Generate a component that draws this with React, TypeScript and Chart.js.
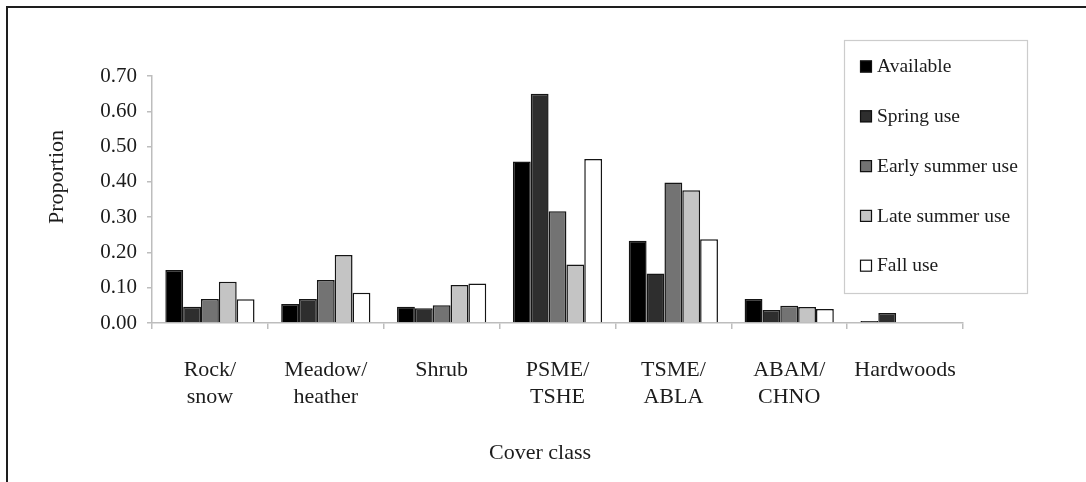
import React, { useEffect, useRef } from "react";
import { Chart, registerables } from "chart.js";

Chart.register(...registerables);

const categories: string[][] = [
  ["Rock/", "snow"],
  ["Meadow/", "heather"],
  ["Shrub"],
  ["PSME/", "TSHE"],
  ["TSME/", "ABLA"],
  ["ABAM/", "CHNO"],
  ["Hardwoods"],
];
const seriesNames = ["Available", "Spring use", "Early summer use", "Late summer use", "Fall use"];
const available = [0.15, 0.054, 0.046, 0.458, 0.233, 0.068, 0.006];
const springUse = [0.046, 0.068, 0.042, 0.65, 0.14, 0.037, 0.028];
const earlySummerUse = [0.068, 0.122, 0.05, 0.317, 0.398, 0.049, null];
const lateSummerUse = [0.117, 0.193, 0.108, 0.166, 0.376, 0.045, null];
const fallUse = [0.067, 0.086, 0.112, 0.465, 0.237, 0.04, null];
const seriesColors = ["#000000", "#2e2e2e", "#737373", "#c4c4c4", "#ffffff"];
const yMin = 0;
const yMax = 0.7;
const yStep = 0.1;
const xTitle = "Cover class";
const yTitle = "Proportion";

const SERIF = '"Liberation Serif", "Times New Roman", serif';
const TEXT = "#1c1c1c";
const AXIS = "#bdbdbd";

const boxLegend = {
  id: "boxLegend",
  afterDraw(chart: any) {
    const ctx = chart.ctx as CanvasRenderingContext2D;
    ctx.save();
    ctx.fillStyle = "#ffffff";
    ctx.fillRect(844, 40, 183, 253);
    ctx.strokeStyle = "#cccccc";
    ctx.lineWidth = 1.2;
    ctx.strokeRect(844.5, 40.5, 183, 253);
    chart.data.datasets.forEach((ds: any, i: number) => {
      const y = 66.5 + i * 49.8;
      ctx.fillStyle = ds.backgroundColor;
      ctx.fillRect(860, y - 6, 12, 12);
      ctx.strokeStyle = "#111111";
      ctx.lineWidth = 1.2;
      ctx.strokeRect(860.5, y - 5.5, 11, 11);
      ctx.fillStyle = TEXT;
      ctx.font = `19.5px ${SERIF}`;
      ctx.textBaseline = "middle";
      ctx.textAlign = "left";
      ctx.fillText(ds.label, 877, y + 0.5);
    });
    ctx.restore();
  },
};

const axisTitles = {
  id: "axisTitles",
  afterDraw(chart: any) {
    const ctx = chart.ctx as CanvasRenderingContext2D;
    ctx.save();
    ctx.fillStyle = TEXT;
    ctx.font = `22px ${SERIF}`;
    ctx.textAlign = "center";
    ctx.textBaseline = "middle";
    ctx.fillText(xTitle, 540, 453);
    ctx.translate(57, 177);
    ctx.rotate(-Math.PI / 2);
    ctx.fillText(yTitle, 0, 0);
    ctx.restore();
  },
};

export default function App() {
  const ref = useRef<HTMLCanvasElement | null>(null);

  useEffect(() => {
    document.body.style.margin = "0";
    const canvas = ref.current;
    if (!canvas) return;
    const allSeries = [available, springUse, earlySummerUse, lateSummerUse, fallUse];
    const chart = new Chart(canvas, {
      type: "bar",
      data: {
        labels: categories,
        datasets: allSeries.map((vals, i) => ({
          label: seriesNames[i],
          data: vals,
          backgroundColor: seriesColors[i],
          borderColor: "#151515",
          borderWidth: 1.5,
          categoryPercentage: 0.77,
          barPercentage: 1.0,
        })),
      },
      options: {
        animation: false,
        responsive: false,
        maintainAspectRatio: false,
        layout: { padding: { left: 45, right: 123, top: 76, bottom: 18 } },
        plugins: {
          legend: { display: false },
          tooltip: { enabled: false },
        },
        scales: {
          x: {
            type: "category",
            offset: true,
            grid: {
              display: true,
              drawOnChartArea: false,
              drawTicks: true,
              tickLength: 6,
              color: AXIS,
              lineWidth: 1.5,
              offset: true,
            },
            border: { display: true, color: AXIS, width: 1.5 },
            ticks: {
              color: TEXT,
              font: { family: SERIF, size: 22, lineHeight: 1.23 },
              padding: 28,
              maxRotation: 0,
              autoSkip: false,
            },
            afterFit: (scale: any) => {
              scale.height = 141;
            },
          },
          y: {
            min: yMin,
            max: yMax,
            grid: {
              display: true,
              drawOnChartArea: false,
              drawTicks: true,
              tickLength: 5,
              color: AXIS,
              lineWidth: 1.5,
            },
            border: { display: true, color: AXIS, width: 1.5 },
            ticks: {
              stepSize: yStep,
              color: TEXT,
              font: { family: SERIF, size: 21, lineHeight: 1.2 },
              padding: 10,
              callback: (v: any) => Number(v).toFixed(2),
            },
            afterFit: (scale: any) => {
              scale.width = 107;
            },
          },
        },
      },
      plugins: [boxLegend, axisTitles],
    });
    return () => chart.destroy();
  }, []);

  return (
    <div style={{ position: "relative", width: 1086, height: 482, overflow: "hidden", background: "#fff" }}>
      <canvas ref={ref} width={1086} height={482} style={{ display: "block" }} />
      <div
        style={{
          position: "absolute",
          left: 6,
          top: 6,
          width: 1200,
          height: 600,
          borderTop: "2.5px solid #1e1e1e",
          borderLeft: "2.5px solid #1e1e1e",
          pointerEvents: "none",
        }}
      />
    </div>
  );
}
